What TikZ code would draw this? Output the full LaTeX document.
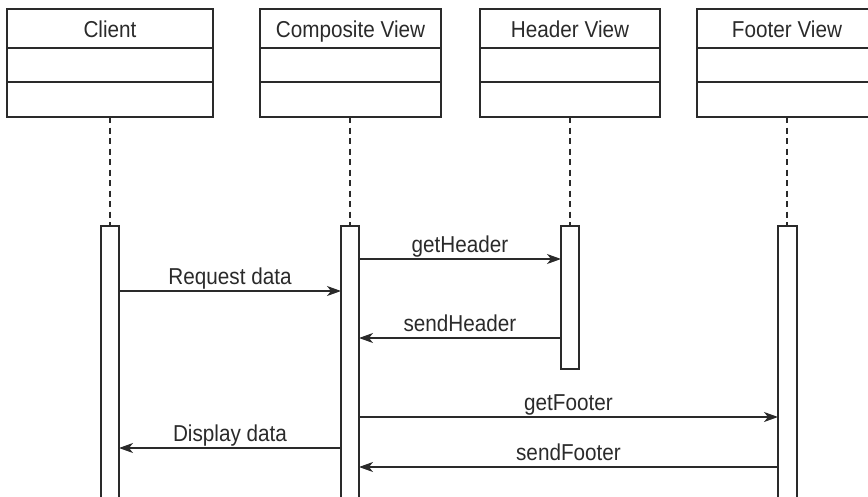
\documentclass[tikz,border=0pt]{standalone}
\usepackage{fontspec}
\setmainfont{Liberation Sans}[FakeStretch=0.9]
\usetikzlibrary{arrows.meta}
\definecolor{ink}{HTML}{2A2A2A}
\tikzset{
  part/.style={draw=ink, line width=1.4pt, minimum width=181pt, inner sep=0pt, outer sep=0pt, text height=17.6pt, text depth=0pt, text=ink},
  bar/.style={draw=ink, fill=white, line width=1.3pt, minimum width=18pt, inner sep=0pt, outer sep=0pt},
  life/.style={draw=ink, line width=1.2pt, dash pattern=on 6pt off 4.5pt},
  msg/.style={draw=ink, line width=1.3pt, -{Stealth[length=14pt, width=10pt, inset=4pt]}},
  lbl/.style={text=ink, anchor=base, inner sep=0pt, yshift=7pt},
}
\begin{document}
\begin{tikzpicture}[x=1pt, y=-1pt, font=\fontsize{23}{27}\selectfont]
\useasboundingbox (0,0) rectangle (868,496);
\clip (0,0) rectangle (868,496);
% class boxes
\node[part, minimum width=206pt, minimum height=39pt] (c1) at (110,28.5) {Client};
\node[part, minimum width=206pt, minimum height=34pt, anchor=north] (c2) at (c1.south) {};
\node[part, minimum width=206pt, minimum height=35pt, anchor=north] (c3) at (c2.south) {};
\node[part, minimum height=39pt] (v1) at (350.5,28.5) {Composite View};
\node[part, minimum height=34pt, anchor=north] (v2) at (v1.south) {};
\node[part, minimum height=35pt, anchor=north] (v3) at (v2.south) {};
\node[part, minimum width=180pt, minimum height=39pt] (h1) at (570,28.5) {Header View};
\node[part, minimum width=180pt, minimum height=34pt, anchor=north] (h2) at (h1.south) {};
\node[part, minimum width=180pt, minimum height=35pt, anchor=north] (h3) at (h2.south) {};
\node[part, minimum width=180pt, minimum height=39pt] (f1) at (787,28.5) {Footer View};
\node[part, minimum width=180pt, minimum height=34pt, anchor=north] (f2) at (f1.south) {};
\node[part, minimum width=180pt, minimum height=35pt, anchor=north] (f3) at (f2.south) {};
% activation bars
\node[bar, minimum height=290pt, anchor=north] (cb) at (110,226) {};
\node[bar, minimum height=290pt, anchor=north] (vb) at (350,226) {};
\node[bar, minimum height=143pt, anchor=north] (hb) at (570,226) {};
\node[bar, minimum width=19pt, minimum height=290pt, anchor=north] (fb) at (787.5,226) {};
% lifelines
\draw[life] (c3.south -| cb.north) -- (cb.north);
\draw[life] (v3.south -| vb.north) -- (vb.north);
\draw[life] (h3.south -| hb.north) -- (hb.north);
\draw[life] (f3.south) -- (f3.south |- fb.north);
% message levels
\coordinate (m1) at (0,259);
\coordinate (m2) at (0,291);
\coordinate (m3) at (0,338);
\coordinate (m4) at (0,417);
\coordinate (m5) at (0,448);
\coordinate (m6) at (0,467);
% messages
\draw[msg] (vb.east |- m1) -- node[lbl] {getHeader} (hb.west |- m1);
\draw[msg] (cb.east |- m2) -- node[lbl] {Request data} (vb.west |- m2);
\draw[msg] (hb.west |- m3) -- node[lbl] {sendHeader} (vb.east |- m3);
\draw[msg] (vb.east |- m4) -- node[lbl] {getFooter} (fb.west |- m4);
\draw[msg] (vb.west |- m5) -- node[lbl] {Display data} (cb.east |- m5);
\draw[msg] (fb.west |- m6) -- node[lbl] {sendFooter} (vb.east |- m6);
\end{tikzpicture}
\end{document}
